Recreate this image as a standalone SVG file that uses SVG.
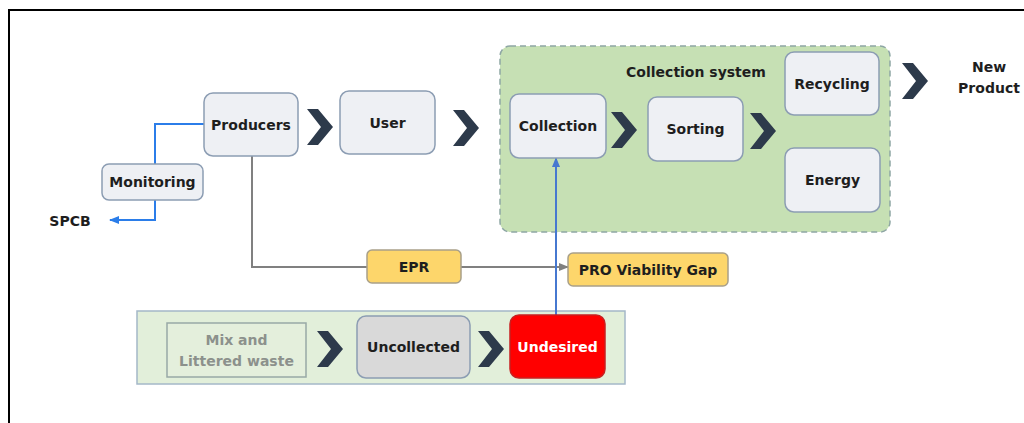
<svg xmlns="http://www.w3.org/2000/svg" width="1024" height="423" viewBox="0 0 1024 423">
<style>
text{font-family:"DejaVu Sans","Liberation Sans",sans-serif;font-weight:bold;font-size:14px;fill:#1e1e1e;text-anchor:middle;dominant-baseline:central}
.node{fill:#eef0f4;stroke:#8c9db3;stroke-width:1.5}
.chev{fill:#2d3a4b}
.yel{fill:#fdd66b;stroke:#a9a089;stroke-width:1.5}
</style>
<defs>
<path id="chev" d="M0,0 H11 L26,18 L11,36 H0 L14,18 Z"/>
<marker id="ab" viewBox="0 0 10 10" refX="9" refY="5" markerWidth="5" markerHeight="5" orient="auto"><path d="M0,1 L10,5 L0,9 Z" fill="#2b7de9"/></marker>
<marker id="ab2" viewBox="0 0 10 10" refX="9" refY="5" markerWidth="5" markerHeight="5" orient="auto"><path d="M0,1 L10,5 L0,9 Z" fill="#4678d0"/></marker>
<marker id="ag" viewBox="0 0 10 10" refX="9" refY="5" markerWidth="5" markerHeight="5" orient="auto"><path d="M0,1 L10,5 L0,9 Z" fill="#808080"/></marker>
</defs>
<rect x="9" y="10" width="1030" height="430" fill="#fff" stroke="#000" stroke-width="2"/>

<g id="collection-system">
<rect x="500" y="46" width="390" height="186" rx="10" fill="#c6e0b4" stroke="#8ea6a4" stroke-width="1.5" stroke-dasharray="6,4"/>
<text x="696" y="72">Collection system</text>
</g>
<g id="uncollected-area">
<rect x="137" y="311" width="488" height="73" fill="#e2efda" stroke="#a4b8c8" stroke-width="1.5"/>
</g>

<g id="connectors" fill="none">
<path d="M204,124 H155 V164" stroke="#2b7de9" stroke-width="2"/>
<path d="M155,200 V220 H110" stroke="#2b7de9" stroke-width="2" marker-end="url(#ab)"/>
<path d="M252,156 V267 H367" stroke="#808080" stroke-width="2"/>
<path d="M461,267 H568" stroke="#808080" stroke-width="2" marker-end="url(#ag)"/>
<path d="M556,315 V158" stroke="#4678d0" stroke-width="2" marker-end="url(#ab2)"/>
<use href="#chev" class="chev" x="307" y="109"/>
<use href="#chev" class="chev" x="453" y="110"/>
<use href="#chev" class="chev" x="611" y="112"/>
<use href="#chev" class="chev" x="750" y="113"/>
<use href="#chev" class="chev" x="902" y="63"/>
<use href="#chev" class="chev" x="317" y="331"/>
<use href="#chev" class="chev" x="478" y="331"/>
</g>

<g id="producers"><rect class="node" x="204" y="93" width="94" height="63" rx="9"/><text x="251" y="125">Producers</text></g>
<g id="user"><rect class="node" x="340" y="91" width="95" height="63" rx="9"/><text x="387.5" y="123">User</text></g>
<g id="monitoring"><rect class="node" x="102" y="164" width="101" height="36" rx="7"/><text x="152.5" y="182">Monitoring</text></g>
<g id="spcb"><text x="70" y="221">SPCB</text></g>
<g id="collection"><rect class="node" x="510" y="94" width="96" height="64" rx="9"/><text x="558" y="126">Collection</text></g>
<g id="sorting"><rect class="node" x="648" y="97" width="95" height="64" rx="9"/><text x="695.5" y="129">Sorting</text></g>
<g id="recycling"><rect class="node" x="785" y="52" width="94" height="63" rx="9"/><text x="832" y="84">Recycling</text></g>
<g id="energy"><rect class="node" x="785" y="148" width="95" height="64" rx="9"/><text x="832.5" y="180">Energy</text></g>
<g id="new-product"><text x="989" y="67">New</text><text x="989" y="88">Product</text></g>
<g id="epr"><rect class="yel" x="367" y="250" width="94" height="33" rx="5"/><text x="414" y="267">EPR</text></g>
<g id="pro-gap"><rect class="yel" x="568" y="253" width="160" height="33" rx="5"/><text x="648" y="269.5">PRO Viability Gap</text></g>
<g id="mix"><rect x="167" y="323" width="139" height="54" fill="#e4efdc" stroke="#98a9a6" stroke-width="1.5"/><text x="236.5" y="340" style="fill:#8c918c">Mix and</text><text x="236.5" y="361" style="fill:#8c918c">Littered waste</text></g>
<g id="uncollected"><rect x="357" y="316" width="113" height="62" rx="9" fill="#d9d9d9" stroke="#8c9db3" stroke-width="1.5"/><text x="413.5" y="347">Uncollected</text></g>
<g id="undesired"><rect x="510" y="315" width="95" height="63" rx="9" fill="#ff0000" stroke="#c82020" stroke-width="1.5"/><text x="557.5" y="347" style="fill:#fff">Undesired</text></g>
</svg>
